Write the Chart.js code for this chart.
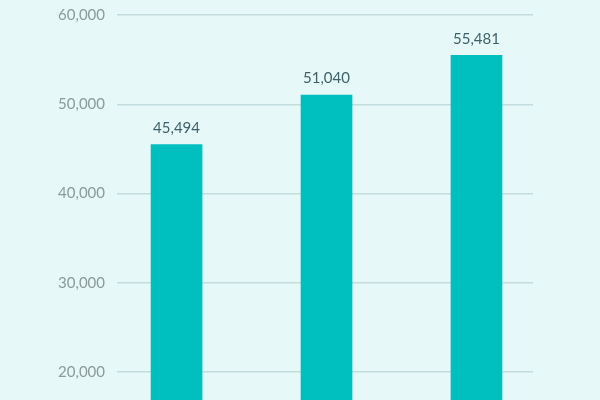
<!DOCTYPE html>
<html>
<head>
<meta charset="utf-8">
<script src="https://cdn.jsdelivr.net/npm/chart.js@4/dist/chart.umd.min.js"></script>
<style>
    html, body { margin: 0; padding: 0; background: #e6f8f8; }
    #wrap { width: 600px; height: 400px; }
</style>
</head>
<body>
<div id="wrap"><canvas id="chart"></canvas></div>
<script>
// Data
const categories = ['A', 'B', 'C'];
const values = [45494, 51040, 55481];
const yTicks = [20000, 30000, 40000, 50000, 60000];

// Draw value labels above each bar
const valueLabels = {
    id: 'valueLabels',
    afterDatasetsDraw(chart) {
        const ctx = chart.ctx;
        const meta = chart.getDatasetMeta(0);
        ctx.save();
        ctx.font = '15px Lato, "Open Sans", sans-serif';
        ctx.fillStyle = '#3f6168';
        ctx.textAlign = 'center';
        ctx.textBaseline = 'bottom';
        meta.data.forEach((bar, i) => {
            ctx.fillText(values[i].toLocaleString('en-US'), bar.x, bar.y - 9);
        });
        ctx.restore();
    }
};

new Chart(document.getElementById('chart'), {
    type: 'bar',
    data: {
        datasets: [{
            label: categories.join(' / '),
            data: values.map((v, i) => ({ x: i, y: v })),
            backgroundColor: '#00bfbf',
            borderWidth: 0,
            barThickness: 51
        }]
    },
    options: {
        responsive: true,
        maintainAspectRatio: false,
        animation: false,
        layout: { padding: { top: 15, right: 67, bottom: 0, left: 0 } },
        plugins: {
            legend: { display: false },
            tooltip: { enabled: false }
        },
        scales: {
            x: {
                type: 'linear',
                display: false,
                offset: false,
                min: -0.397,
                max: 2.377
            },
            y: {
                min: 16863,
                max: 60000,
                afterBuildTicks: (scale) => {
                    scale.ticks = yTicks.map(v => ({ value: v }));
                },
                afterFit: (scale) => {
                    scale.width = 117;
                    scale.paddingTop = 0;
                    scale.paddingBottom = 0;
                },
                border: { display: false },
                grid: {
                    color: '#c3dcdd',
                    lineWidth: 1.5,
                    drawTicks: false
                },
                ticks: {
                    padding: 12,
                    color: '#8c9a9a',
                    font: { family: 'Lato, "Open Sans", sans-serif', size: 15 },
                    callback: (v) => v.toLocaleString('en-US')
                }
            }
        }
    },
    plugins: [valueLabels]
});
</script>
</body>
</html>
